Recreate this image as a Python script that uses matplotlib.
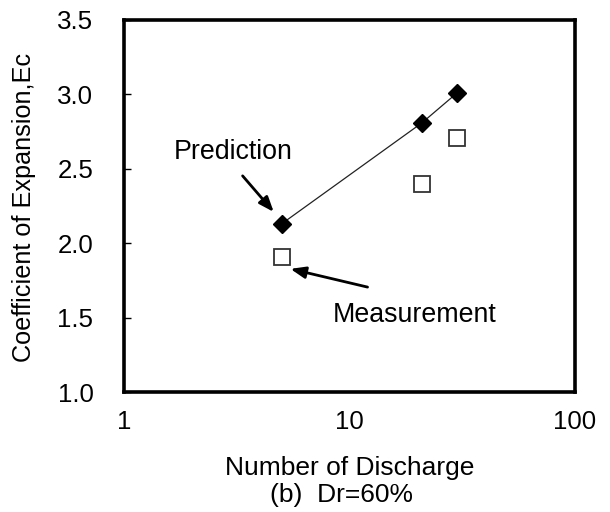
import matplotlib
matplotlib.use("Agg")
import matplotlib.pyplot as plt

plt.rcParams['font.family'] = ['Liberation Sans', 'DejaVu Sans']

discharge = [5, 21, 30]
prediction = [2.13, 2.81, 3.01]
measurement = [1.91, 2.40, 2.71]

x_ticks = [1, 10, 100]
x_ticklabels = ["1", "10", "100"]
y_ticks = [1.0, 1.5, 2.0, 2.5, 3.0, 3.5]
y_ticklabels = ["1.0", "1.5", "2.0", "2.5", "3.0", "3.5"]

fig = plt.figure(figsize=(6.10, 5.12), dpi=100)
W, H = 610, 512
left, right, top, bottom = 124, 575, 20, 392
ax = fig.add_axes([left / W, 1 - bottom / H, (right - left) / W, (bottom - top) / H])

fs = 19.3
ax.plot(discharge, prediction, color='#222222', lw=0.9, marker='D', markersize=8.8,
        markerfacecolor='black', markeredgecolor='black', zorder=3)
ax.plot(discharge, measurement, linestyle='none', marker='s', markersize=12,
        markerfacecolor='white', markeredgecolor='#333333', markeredgewidth=1.3, zorder=3)

ax.set_xscale('log')
ax.set_xlim(1, 100)
ax.set_ylim(1.0, 3.5)
ax.set_xticks(x_ticks)
ax.set_xticklabels(x_ticklabels)
ax.minorticks_off()
ax.set_yticks(y_ticks)
ax.set_yticklabels(y_ticklabels)
ax.tick_params(axis='y', direction='in', length=5, width=1, pad=22, labelsize=18.6)
ax.tick_params(axis='x', direction='in', length=0, pad=13, labelsize=18.6)

for s in ax.spines.values():
    s.set_linewidth(2.6)
    s.set_color('black')

ax.set_xlabel("Number of Discharge", fontsize=19, va='center')
ax.xaxis.set_label_coords(0.5, (bottom - 468) / (bottom - top))
ax.set_ylabel("Coefficient of Expansion,Ec", fontsize=18.2, va='center')
ax.yaxis.set_label_coords((24 - left) / (right - left), (bottom - 207) / (bottom - top))
fig.text(342 / W, 1 - 495 / H, "(b)  Dr=60%", fontsize=19, ha='center', va='center')

arrowprops = dict(arrowstyle='-|>,head_length=0.9,head_width=0.35', color='black', lw=2,
                  shrinkA=0, shrinkB=0)
ax.text(0.242, 0.645, "Prediction", transform=ax.transAxes, fontsize=fs,
        ha='center', va='center')
ax.annotate("", xy=(0.332, 0.484), xytext=(0.263, 0.581),
            xycoords='axes fraction', textcoords='axes fraction', arrowprops=arrowprops)
ax.text(0.644, 0.207, "Measurement", transform=ax.transAxes, fontsize=fs,
        ha='center', va='center')
ax.annotate("", xy=(0.369, 0.331), xytext=(0.540, 0.282),
            xycoords='axes fraction', textcoords='axes fraction', arrowprops=arrowprops)

fig.savefig("out.png", dpi=100)
